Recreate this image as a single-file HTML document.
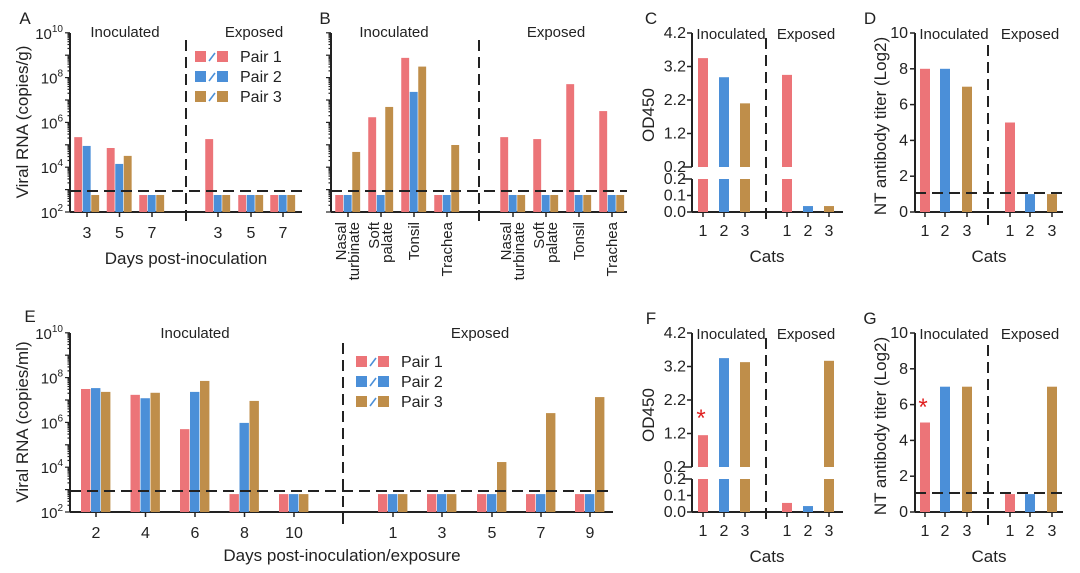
<!DOCTYPE html>
<html><head><meta charset="utf-8"><style>
html,body{margin:0;padding:0;background:#fff;}
svg{display:block;font-family:"Liberation Sans",Arial,sans-serif;}
</style></head><body>
<svg id="fig" width="1080" height="573" viewBox="0 0 1080 573" xmlns="http://www.w3.org/2000/svg"></svg>
<script>
// ---------- data ----------
const colors = ['#ec7478','#4b8fd8','#bf8e4a'];
const pairLabels = ['Pair 1','Pair 2','Pair 3'];
// Panel A (copies/g)
const aDays = ['3','5','7'];
const aInocP1 = [2.2e5, 7.2e4, 575];
const aInocP2 = [8.9e4, 1.4e4, 575];
const aInocP3 = [575, 3.2e4, 575];
const aExpP1 = [1.8e5, 575, 575];
const aExpP2 = [575, 575, 575];
const aExpP3 = [575, 575, 575];
// Panel B (copies/g)
const bTissues = [['Nasal','turbinate'],['Soft','palate'],['Tonsil'],['Trachea']];
const bInocP1 = [575, 1.7e6, 7.6e8, 575];
const bInocP2 = [575, 575, 2.3e7, 575];
const bInocP3 = [4.8e4, 4.9e6, 3.1e8, 9.8e4];
const bExpP1 = [2.2e5, 1.8e5, 5.1e7, 3.2e6];
const bExpP2 = [575, 575, 575, 575];
const bExpP3 = [575, 575, 575, 575];
// Panel E (copies/ml)
const eInocDays = ['2','4','6','8','10'];
const eExpDays = ['1','3','5','7','9'];
const eInocP1 = [3.1e7, 1.7e7, 5e5, 630, 630];
const eInocP2 = [3.4e7, 1.2e7, 2.3e7, 9.5e5, 630];
const eInocP3 = [2.3e7, 2.1e7, 7.1e7, 9.1e6, 630];
const eExpP1 = [630, 630, 630, 630, 630];
const eExpP2 = [630, 630, 630, 630, 630];
const eExpP3 = [630, 630, 1.7e4, 2.6e6, 1.35e7];
const lodRNA = 870;
// Panels C, F (OD450)
const cats = ['1','2','3'];
const cInoc = [3.45, 2.88, 2.1];
const cExp = [2.95, 0.036, 0.036];
const fInoc = [1.15, 3.45, 3.33];
const fExp = [0.055, 0.036, 3.37];
const odUpperTicks = ['4.2','3.2','2.2','1.2','0.2'];
const odLowerTicks = ['0.2','0.1','0.0'];
// Panels D, G (NT titer log2)
const dInoc = [8, 8, 7];
const dExp = [5, 1, 1];
const gInoc = [5, 7, 7];
const gExp = [1, 1, 7];
const ntTicks = [0, 2, 4, 6, 8, 10];
const ntLod = 1.06;

// ---------- helpers ----------
const svg = document.getElementById('fig');
const NS = 'http://www.w3.org/2000/svg';
const DASH = '11,6';
function mk(tag, attrs, parent){
  const e = document.createElementNS(NS, tag);
  for (const k in attrs) e.setAttribute(k, attrs[k]);
  (parent || svg).appendChild(e);
  return e;
}
function txt(x, y, s, size, anchor, parent, name){
  const t = mk('text', {x:x, y:y, 'font-size':size, 'text-anchor':anchor||'middle', fill:'#222'}, parent);
  t.textContent = s;
  
  
  return t;
}
function line(x1,y1,x2,y2,w,dash,parent){
  return mk('line',{x1:x1,y1:y1,x2:x2,y2:y2,stroke:'#222','stroke-width':w||1.5,'stroke-dasharray':dash||'none'},parent);
}
function group(name){
  const g = mk('g', {});
  
  
  return g;
}
const DEC = 22.4;
function logY(v, base){ return base - (Math.log10(v) - 2) * DEC; }

function logAxis(g, ax, base, labels){
  line(ax, base - 179, ax, base, 2, null, g);
  for (let n = 2; n <= 10; n++){
    for (let k = 1; k <= 9; k++){
      if (n === 10 && k > 1) break;
      const y = logY(k * Math.pow(10, n), base);
      line(ax - (k === 1 ? 5 : 2.5), y, ax, y, 1.2, null, g);
    }
    if (labels && n % 2 === 0){
      const y = logY(Math.pow(10, n), base);
      const t = txt(ax - 7, y + 6, '', 15, 'end', g, 'y-tick-label');
      const a = mk('tspan', {}, t); a.textContent = '10';
      const b = mk('tspan', {'font-size':10, dy:-7}, t); b.textContent = String(n);
    }
  }
}
function logBars(g, centers, series, base, w, name){
  series.forEach((vals, si) => {
    vals.forEach((v, i) => {
      const x = centers[i] - 1.5 * w + si * w;
      const y = logY(v, base);
      const r = mk('rect', {x:x, y:y, width:w - 0.6, height:base - y, fill:colors[si]}, g);
      
      
    });
  });
}
function legend(g, x, y0, dy){
  pairLabels.forEach((p, i) => {
    const y = y0 + i * dy;
    const e = mk('g', {}, g);
    
    
    mk('rect', {x:x, y:y - 6, width:11, height:11, fill:colors[i]}, e);
    mk('line', {x1:x + 14, y1:y + 4, x2:x + 20, y2:y - 4, stroke:colors[1], 'stroke-width':1.6}, e);
    mk('rect', {x:x + 22, y:y - 6, width:11, height:11, fill:colors[i]}, e);
    txt(x + 45, y + 5, p, 16, 'start', e, 'legend-label');
  });
}

// ---------- Panel A ----------
(function(){
  const g = group('panel-a');
  txt(25, 24, 'A', 17, 'middle', g, 'panel-letter');
  const base = 212, ax = 70;
  logAxis(g, ax, base, true);
  line(ax, base, 302, base, 2, null, g);
  const ci = [87, 119.5, 152], ce = [218, 251, 283];
  logBars(g, ci, [aInocP1, aInocP2, aInocP3], base, 8.5, 'a-inoc-bar');
  logBars(g, ce, [aExpP1, aExpP2, aExpP3], base, 8.5, 'a-exp-bar');
  ci.concat(ce).forEach((c, i) => {
    line(c, base, c, base + 5, 1.5, null, g);
    txt(c, 238, aDays[i % 3], 16, 'middle', g, 'x-tick-label');
  });
  line(ax, logY(lodRNA, base), 302, logY(lodRNA, base), 2, DASH, g);
  line(186, 40, 186, 225, 2, DASH, g);
  txt(125, 37, 'Inoculated', 15, 'middle', g, 'group-title');
  txt(254, 37, 'Exposed', 15, 'middle', g, 'group-title');
  legend(g, 195, 57, 20);
  txt(186, 264, 'Days post-inoculation', 17, 'middle', g, 'x-axis-title');
  const yt = txt(0, 0, 'Viral RNA (copies/g)', 17, 'middle', g, 'y-axis-title');
  yt.setAttribute('transform', 'translate(28,122) rotate(-90)');
})();

// ---------- Panel B ----------
(function(){
  const g = group('panel-b');
  txt(325, 24, 'B', 17, 'middle', g, 'panel-letter');
  const base = 212, ax = 331;
  logAxis(g, ax, base, false);
  line(ax, base, 627, base, 2, null, g);
  const ci = [348, 381, 414, 447], ce = [513, 546, 579, 612];
  logBars(g, ci, [bInocP1, bInocP2, bInocP3], base, 8.5, 'b-inoc-bar');
  logBars(g, ce, [bExpP1, bExpP2, bExpP3], base, 8.5, 'b-exp-bar');
  ci.concat(ce).forEach((c, i) => {
    line(c, base, c, base + 5, 1.5, null, g);
    const lab = bTissues[i % 4];
    lab.forEach((s, j) => {
      const off = lab.length === 2 ? (j === 0 ? -7 : 6) : 0;
      const t = txt(0, 0, s, 15, 'end', g, 'x-tick-label');
      t.setAttribute('transform', 'translate(' + (c + off + 5) + ',222) rotate(-90)');
    });
  });
  line(ax, logY(lodRNA, base), 627, logY(lodRNA, base), 2, DASH, g);
  line(479, 40, 479, 225, 2, DASH, g);
  txt(394, 37, 'Inoculated', 15, 'middle', g, 'group-title');
  txt(556, 37, 'Exposed', 15, 'middle', g, 'group-title');
})();

// ---------- Panels C & F (broken OD axis) ----------
function odPanel(letter, dyOff, inoc, exp){
  const g = group('panel-' + letter.toLowerCase());
  const top = 33 + dyOff, brkU = 167 + dyOff, brkL = 179 + dyOff, base = 212 + dyOff, ax = 692;
  const yU = v => brkU - (v - 0.2) * 33.5;
  const yL = v => base - v / 0.2 * 33;
  txt(651, 24 + dyOff, letter, 17, 'middle', g, 'panel-letter');
  line(ax, top, ax, brkU, 2, null, g);
  line(ax, brkL, ax, base, 2, null, g);
  line(ax, base, 843, base, 2, null, g);
  odUpperTicks.forEach(s => {
    const y = yU(parseFloat(s));
    line(ax - (s === '0.2' ? 10 : 5), y, ax, y, 1.5, null, g);
    txt(ax - 6, y + 5, s, 16, 'end', g, 'y-tick-label');
  });
  odLowerTicks.forEach(s => {
    const y = yL(parseFloat(s));
    line(ax - (s === '0.2' ? 10 : 5), y, ax, y, 1.5, null, g);
    txt(ax - 6, y + 5, s, 16, 'end', g, 'y-tick-label');
  });
  const ci = [703, 724, 745], ce = [787, 808, 829];
  [[ci, inoc, 'inoc'], [ce, exp, 'exp']].forEach(([cs, vals, nm]) => {
    vals.forEach((v, i) => {
      const x = cs[i] - 5;
      let r;
      if (v > 0.2){
        r = mk('rect', {x:x, y:brkL, width:10, height:base - brkL, fill:colors[i]}, g);
        
        
        r = mk('rect', {x:x, y:yU(v), width:10, height:brkU - yU(v), fill:colors[i]}, g);
      } else {
        r = mk('rect', {x:x, y:yL(v), width:10, height:base - yL(v), fill:colors[i]}, g);
      }
      
      
      line(cs[i], base, cs[i], base + 5, 1.5, null, g);
      txt(cs[i], 236 + dyOff, cats[i], 16, 'middle', g, 'x-tick-label');
    });
  });
  line(766, 38 + dyOff, 766, 225 + dyOff, 2, DASH, g);
  txt(731, 39 + dyOff, 'Inoculated', 15, 'middle', g, 'group-title');
  txt(806, 39 + dyOff, 'Exposed', 15, 'middle', g, 'group-title');
  txt(767, 262 + dyOff, 'Cats', 17, 'middle', g, 'x-axis-title');
  const yt = txt(0, 0, 'OD450', 17, 'middle', g, 'y-axis-title');
  yt.setAttribute('transform', 'translate(654,' + (115 + dyOff) + ') rotate(-90)');
  return {g, yU, ci};
}
odPanel('C', 0, cInoc, cExp);
const fp = odPanel('F', 300, fInoc, fExp);
txt(701, 426, '*', 24, 'middle', fp.g, 'significance-asterisk').setAttribute('fill', '#e02020');

// ---------- Panels D & G (NT titer) ----------
function ntPanel(letter, dyOff, inoc, exp){
  const g = group('panel-' + letter.toLowerCase());
  const base = 212 + dyOff, ax = 915;
  const y = v => base - v * 17.9;
  txt(870, 24 + dyOff, letter, 17, 'middle', g, 'panel-letter');
  line(ax, y(10), ax, base, 2, null, g);
  line(ax, base, 1063, base, 2, null, g);
  ntTicks.forEach(v => {
    line(ax - 5, y(v), ax, y(v), 1.5, null, g);
    txt(ax - 7, y(v) + 5, String(v), 16, 'end', g, 'y-tick-label');
  });
  const ci = [925, 945, 967], ce = [1010, 1030, 1052];
  [[ci, inoc, 'inoc'], [ce, exp, 'exp']].forEach(([cs, vals, nm]) => {
    vals.forEach((v, i) => {
      const r = mk('rect', {x:cs[i] - 5, y:y(v), width:10, height:base - y(v), fill:colors[i]}, g);
      
      
      line(cs[i], base, cs[i], base + 5, 1.5, null, g);
      txt(cs[i], 236 + dyOff, cats[i], 16, 'middle', g, 'x-tick-label');
    });
  });
  line(ax, y(ntLod), 1066, y(ntLod), 2, DASH, g);
  line(988, 45 + dyOff, 988, 225 + dyOff, 2, DASH, g);
  txt(954, 39 + dyOff, 'Inoculated', 15, 'middle', g, 'group-title');
  txt(1030, 39 + dyOff, 'Exposed', 15, 'middle', g, 'group-title');
  txt(989, 262 + dyOff, 'Cats', 17, 'middle', g, 'x-axis-title');
  const yt = txt(0, 0, 'NT antibody titer (Log2)', 17, 'middle', g, 'y-axis-title');
  yt.setAttribute('transform', 'translate(886,' + (126 + dyOff) + ') rotate(-90)');
  return g;
}
ntPanel('D', 0, dInoc, dExp);
const gp = ntPanel('G', 300, gInoc, gExp);
txt(923, 415, '*', 24, 'middle', gp, 'significance-asterisk').setAttribute('fill', '#e02020');

// ---------- Panel E ----------
(function(){
  const g = group('panel-e');
  txt(30, 322, 'E', 17, 'middle', g, 'panel-letter');
  const base = 512, ax = 70;
  logAxis(g, ax, base, true);
  line(ax, base, 613, base, 2, null, g);
  const ci = [96, 145.5, 195, 244.5, 294], ce = [393, 442, 492, 541, 590];
  logBars(g, ci, [eInocP1, eInocP2, eInocP3], base, 10, 'e-inoc-bar');
  logBars(g, ce, [eExpP1, eExpP2, eExpP3], base, 10, 'e-exp-bar');
  ci.forEach((c, i) => { line(c, base, c, base + 5, 1.5, null, g); txt(c, 538, eInocDays[i], 16, 'middle', g, 'x-tick-label'); });
  ce.forEach((c, i) => { line(c, base, c, base + 5, 1.5, null, g); txt(c, 538, eExpDays[i], 16, 'middle', g, 'x-tick-label'); });
  line(ax, logY(lodRNA, base), 610, logY(lodRNA, base), 2, DASH, g);
  line(343, 343, 343, 525, 2, DASH, g);
  txt(195, 338, 'Inoculated', 15, 'middle', g, 'group-title');
  txt(480, 338, 'Exposed', 15, 'middle', g, 'group-title');
  legend(g, 356, 362, 20);
  txt(342, 561, 'Days post-inoculation/exposure', 17, 'middle', g, 'x-axis-title');
  const yt = txt(0, 0, 'Viral RNA (copies/ml)', 17, 'middle', g, 'y-axis-title');
  yt.setAttribute('transform', 'translate(28,422) rotate(-90)');
})();
</script>
</body></html>
